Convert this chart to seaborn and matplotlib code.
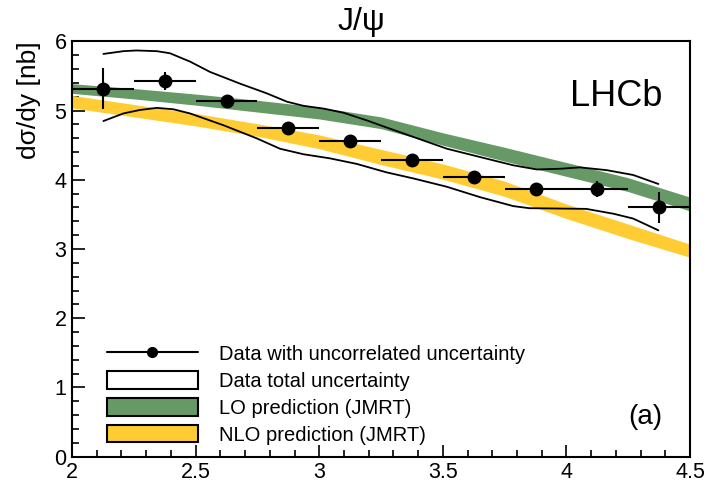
import numpy as np
import pandas as pd
import matplotlib
matplotlib.use("Agg")
import matplotlib.pyplot as plt
import seaborn as sns
from matplotlib.lines import Line2D
from matplotlib.patches import Patch
from matplotlib.ticker import MultipleLocator, FormatStrFormatter

# Measured points (bin centres, value, uncorrelated error)
y_bins = [2.125, 2.375, 2.625, 2.875, 3.125, 3.375, 3.625, 3.875, 4.125, 4.375]
dsig = [5.32, 5.43, 5.14, 4.75, 4.56, 4.29, 4.04, 3.87, 3.87, 3.60]
dsig_err = [0.29, 0.13, 0.05, 0.04, 0.04, 0.04, 0.05, 0.04, 0.12, 0.22]
bin_half = [0.125] * 10

# Total uncertainty envelope (upper / lower edge)
up_x = [2.127, 2.208, 2.26, 2.343, 2.396, 2.477, 2.558, 2.68, 2.788, 2.869,
        2.936, 3.017, 3.098, 3.192, 3.27, 3.381, 3.516, 3.65, 3.785, 3.88,
        3.974, 4.055, 4.163, 4.27, 4.372]
up_y = [5.82, 5.86, 5.87, 5.86, 5.83, 5.71, 5.56, 5.39, 5.25, 5.13,
        5.07, 5.03, 4.97, 4.86, 4.76, 4.62, 4.45, 4.33, 4.21, 4.15,
        4.16, 4.18, 4.14, 4.07, 3.94]
low_x = [2.127, 2.208, 2.275, 2.343, 2.41, 2.477, 2.612, 2.747, 2.841, 2.936,
         3.044, 3.152, 3.27, 3.381, 3.516, 3.65, 3.785, 3.85, 4.08, 4.19,
         4.27, 4.372]
low_y = [4.85, 4.96, 5.01, 5.04, 5.02, 4.96, 4.79, 4.60, 4.45, 4.37,
         4.31, 4.23, 4.11, 4.02, 3.90, 3.75, 3.62, 3.59, 3.58, 3.51,
         3.44, 3.27]

# Theory bands (JMRT)
th_x = [2.0, 2.25, 2.5, 2.75, 3.0, 3.25, 3.5, 3.75, 4.0, 4.25, 4.5]
lo_hi = [5.39, 5.32, 5.24, 5.15, 5.05, 4.91, 4.68, 4.47, 4.25, 4.03, 3.75]
lo_lo = [5.25, 5.17, 5.08, 4.98, 4.88, 4.74, 4.50, 4.27, 4.05, 3.83, 3.55]
nlo_hi = [5.22, 5.09, 4.96, 4.81, 4.65, 4.44, 4.23, 3.98, 3.65, 3.36, 3.07]
nlo_lo = [5.04, 4.91, 4.78, 4.63, 4.45, 4.22, 4.01, 3.76, 3.44, 3.15, 2.88]

green = "#669966"
yellow = "#ffcc33"

sns.set_theme(style="ticks")
plt.rcParams["font.family"] = ["Liberation Sans", "DejaVu Sans"]
plt.rcParams["text.color"] = "black"
plt.rcParams["axes.labelcolor"] = "black"

fig = plt.figure(figsize=(7.11, 4.88), dpi=100)
ax = fig.add_axes([0.1013, 0.0645, 0.8692, 0.8505])

ax.fill_between(th_x, lo_lo, lo_hi, color=green, lw=0, zorder=1)
ax.fill_between(th_x, nlo_lo, nlo_hi, color=yellow, lw=0, zorder=1)

env = pd.DataFrame({"y": up_x + low_x,
                    "v": up_y + low_y,
                    "side": ["hi"] * len(up_x) + ["lo"] * len(low_x)})
sns.lineplot(data=env, x="y", y="v", units="side", estimator=None,
             color="black", lw=1.3, ax=ax, zorder=2)

ax.errorbar(y_bins, dsig, xerr=bin_half, yerr=dsig_err, fmt="none",
            ecolor="black", elinewidth=1.5, capsize=0, zorder=3)
sns.scatterplot(x=y_bins, y=dsig, color="black", s=100, edgecolor="black",
                linewidth=0, ax=ax, zorder=4)

ax.set_xlim(2, 4.5)
ax.set_ylim(0, 6)
ax.xaxis.set_major_locator(MultipleLocator(0.5))
ax.xaxis.set_minor_locator(MultipleLocator(0.1))
ax.yaxis.set_major_locator(MultipleLocator(1))
ax.yaxis.set_minor_locator(MultipleLocator(0.2))
ax.xaxis.set_major_formatter(FormatStrFormatter("%g"))
ax.yaxis.set_major_formatter(FormatStrFormatter("%g"))
ax.tick_params(which="both", direction="in", top=False, right=False,
               labelsize=15.5, width=1.2, colors="black", pad=4)
ax.tick_params(which="major", length=9)
ax.tick_params(which="minor", length=5)
for s in ax.spines.values():
    s.set_linewidth(1.5)
    s.set_color("black")
ax.set_xlabel("")
ax.set_ylabel("dσ/dy [nb]", fontsize=19, loc="top", color="black")
ax.yaxis.set_label_coords(-0.05, 1.0)

fig.text(0.508, 0.985, "J/ψ", ha="center", va="top", fontsize=23,
         color="black")

ax.text(0.956, 0.868, "LHCb", transform=ax.transAxes, ha="right",
        va="center", fontsize=26, color="black")
ax.text(0.956, 0.096, "(a)", transform=ax.transAxes, ha="right",
        va="center", fontsize=20, color="black")

handles = [
    Line2D([0], [0], color="black", lw=1.5, marker="o", markersize=7),
    Patch(facecolor="white", edgecolor="black", lw=1.5),
    Patch(facecolor=green, edgecolor="black", lw=1.5),
    Patch(facecolor=yellow, edgecolor="black", lw=1.5),
]
labels = ["Data with uncorrelated uncertainty", "Data total uncertainty",
          "LO prediction (JMRT)", "NLO prediction (JMRT)"]
leg = ax.legend(handles, labels, loc="upper left",
                bbox_to_anchor=(0.0566, 0.27), frameon=False, fontsize=14.5,
                handlelength=4.5, handleheight=0.95, handletextpad=1.05,
                labelspacing=0.36, borderpad=0, borderaxespad=0)
for t in leg.get_texts():
    t.set_color("black")

fig.savefig("out.png", dpi=100)
